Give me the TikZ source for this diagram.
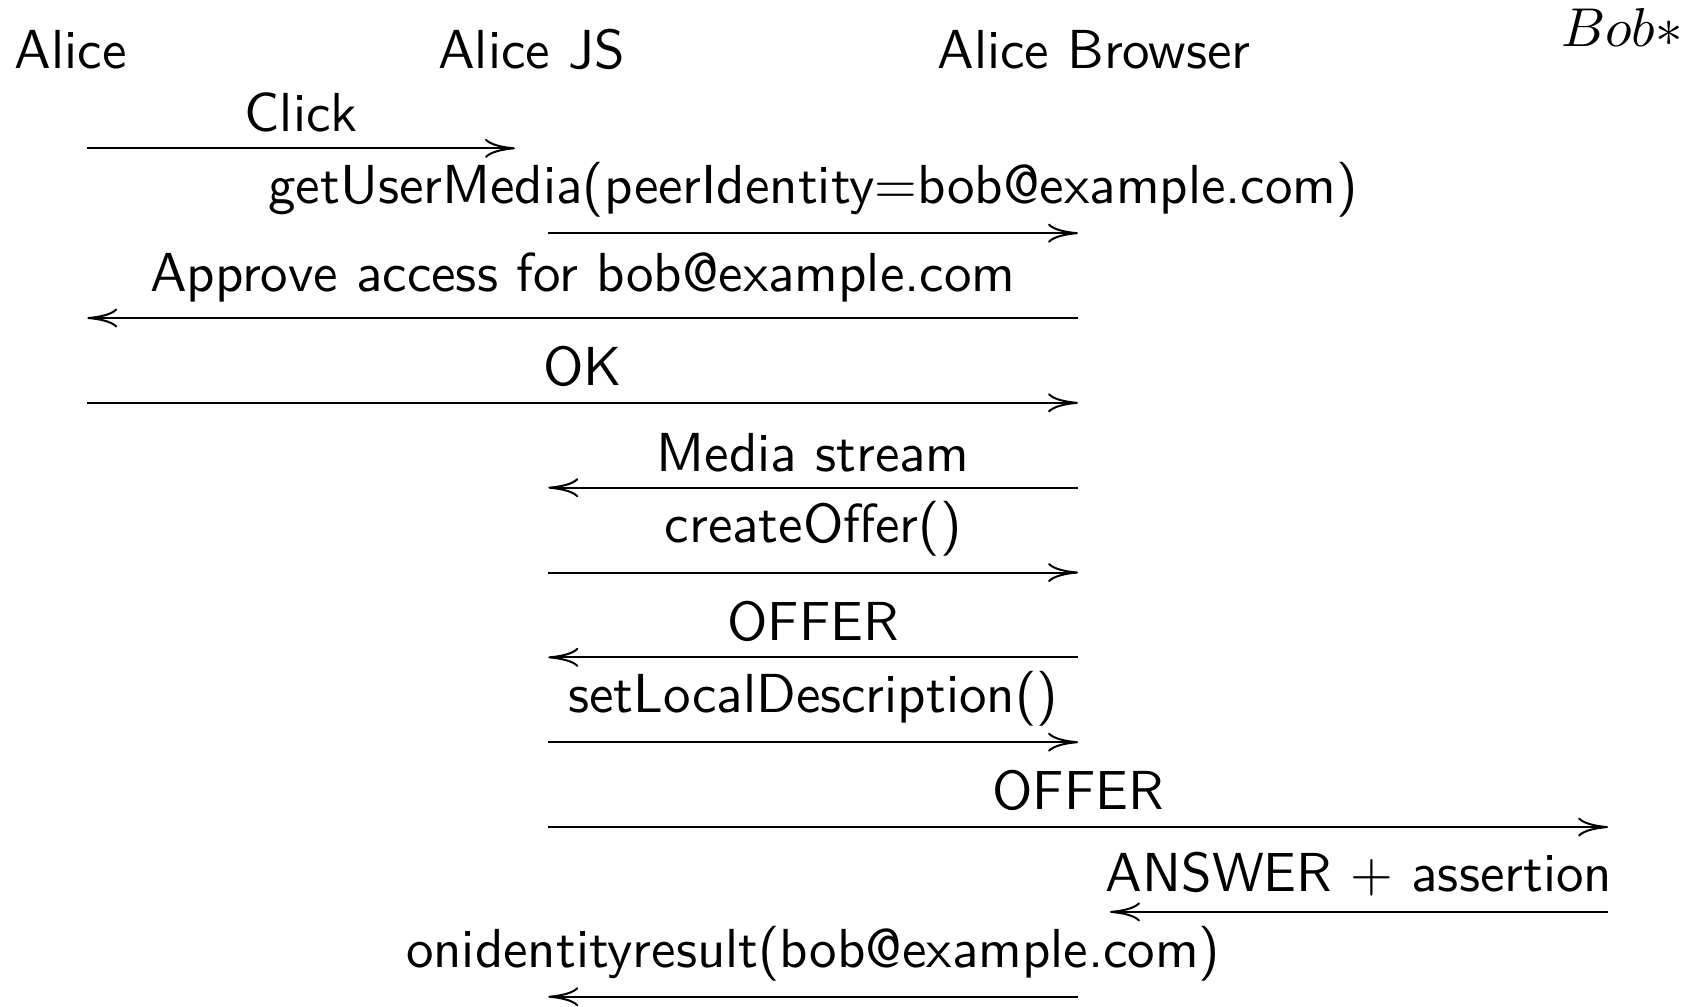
\documentclass[tikz,border=0pt]{standalone}
\usetikzlibrary{arrows.meta}
\begin{document}
\begin{tikzpicture}[
  x=0.2pt, y=-0.2pt,
  txt/.style={font=\sffamily\fontsize{10.99}{13}\selectfont},
  actor/.style={txt, anchor=base, inner sep=0pt},
  msg/.style={line width=0.4pt, -{Computer Modern Rightarrow[length=6pt,width=3.8pt]}},
  lbl/.style={txt, above, inner sep=3pt},
]
\useasboundingbox (0,0) rectangle (1704,1006);

% participants
\node[actor] (alice)   at (70.8,68.3)  {Alice};
\node[actor] (alicejs) at (531.5,68.3) {Alice JS};
\node[actor] (browser) at (1094,68.3)  {Alice Browser};
\node[actor, font=\fontsize{10.99}{13}\selectfont] (bob) at (1622,46.7) {$Bob*$};

% message endpoints, one per column side
\coordinate (cA)  at (87.3,0);
\coordinate (cJl) at (515,0);
\coordinate (cJr) at (548.3,0);
\coordinate (cBl) at (1078,0);
\coordinate (cBr) at (1110,0);
\coordinate (cB)  at (1608,0);

% message rows
\foreach \k in {0,...,10} {
  \coordinate (r\k) at (0,{148.3+84.84*\k});
}

\draw[msg] (cA |- r0) -- node[lbl] {Click} (cJl |- r0);
\draw[msg] (cJr |- r1) -- node[lbl] {getUserMedia(peerIdentity=bob@example.com)} (cBl |- r1);
\draw[msg] (cBl |- r2) -- node[lbl] {Approve access for bob@example.com} (cA |- r2);
\draw[msg] (cA |- r3) -- node[lbl] {OK} (cBl |- r3);
\draw[msg] (cBl |- r4) -- node[lbl] {Media stream} (cJr |- r4);
\draw[msg] (cJr |- r5) -- node[lbl] {createOffer()} (cBl |- r5);
\draw[msg] (cBl |- r6) -- node[lbl] {OFFER} (cJr |- r6);
\draw[msg] (cJr |- r7) -- node[lbl] {setLocalDescription()} (cBl |- r7);
\draw[msg] (cJr |- r8) -- node[lbl] {OFFER} (cB |- r8);
\draw[msg] (cB |- r9) -- node[lbl] {ANSWER + assertion} (cBr |- r9);
\draw[msg] (cBl |- r10) -- node[lbl] {onidentityresult(bob@example.com)} (cJr |- r10);
\end{tikzpicture}
\end{document}
